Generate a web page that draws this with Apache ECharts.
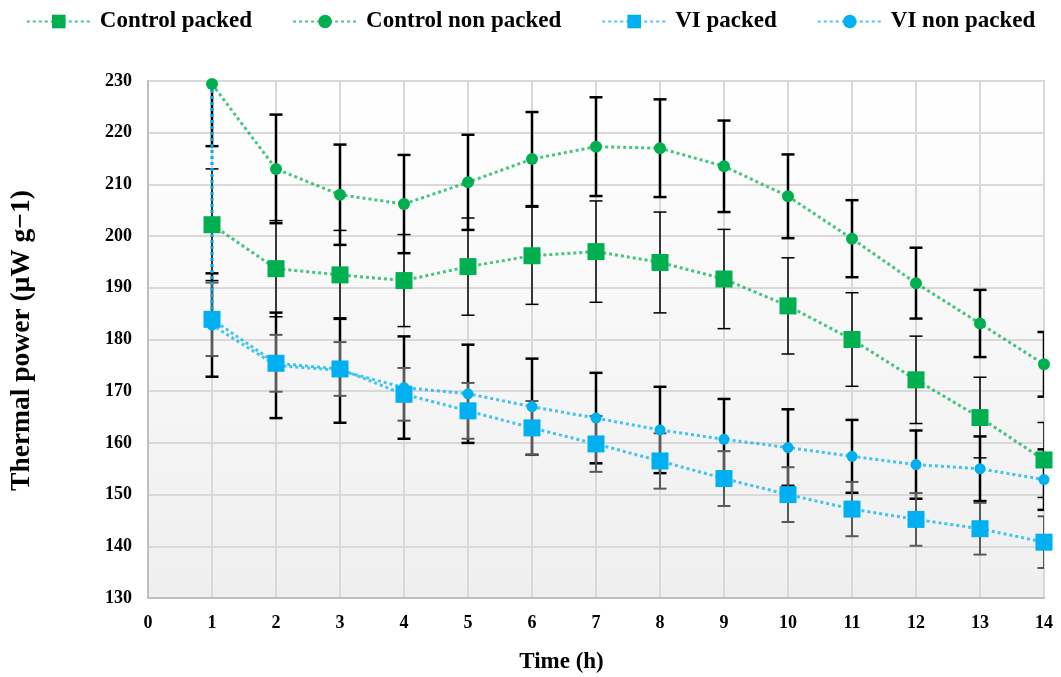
<!DOCTYPE html>
<html>
<head>
<meta charset="utf-8">
<script src="https://cdn.jsdelivr.net/npm/echarts@6/dist/echarts.min.js"></script>
<style>html,body{margin:0;padding:0;background:#fff}#c{width:1061px;height:677px}</style>
</head>
<body>
<div id="c"></div>
<script>
// ---- data ----
const times = [1, 2, 3, 4, 5, 6, 7, 8, 9, 10, 11, 12, 13, 14];
const initialValue = 229.4; // shared starting reading at t = 1 h
const controlPacked    = [202.2, 193.7, 192.5, 191.4, 194.1, 196.2, 197.0, 194.9, 191.7, 186.5, 180.0, 172.2, 164.9, 156.7];
const controlPackedErr = [10.8, 9.3, 8.6, 8.9, 9.4, 9.4, 9.8, 9.75, 9.6, 9.3, 9.05, 8.45, 7.8, 7.25];
const controlNon       = [229.4, 213.0, 208.0, 206.2, 210.4, 214.9, 217.3, 217.0, 213.5, 207.7, 199.5, 190.9, 183.1, 175.2];
const controlNonErr    = [12.0, 10.5, 9.7, 9.5, 9.2, 9.1, 9.55, 9.45, 8.85, 8.1, 7.45, 6.85, 6.5, 6.25];
const viPacked         = [183.9, 175.4, 174.3, 169.4, 166.2, 162.9, 159.8, 156.5, 153.1, 150.0, 147.2, 145.2, 143.4, 140.8];
const viPackedErr      = [7.1, 5.5, 5.2, 5.1, 5.4, 5.2, 5.4, 5.35, 5.3, 5.3, 5.25, 5.1, 5.0, 5.0];
const viNon            = [182.8, 175.0, 174.0, 170.7, 169.5, 167.0, 164.8, 162.5, 160.7, 159.1, 157.4, 155.8, 155.0, 152.9];
const viNonErr         = [10.0, 10.2, 10.1, 9.9, 9.5, 9.3, 8.75, 8.35, 7.8, 7.4, 7.05, 6.6, 6.25, 5.85];
const seriesNames = ['Control packed', 'Control non packed', 'VI packed', 'VI non packed'];
const xTitle = 'Time (h)';
const yTitle = 'Thermal power (μW g−1)';

// ---- styling ----
const FONT = "'Liberation Serif', 'Times New Roman', serif";
const GREEN = '#00b050', BLUE = '#00b0f0';
const GREEN_LINE = 'rgba(0,176,80,0.72)', BLUE_LINE = 'rgba(0,176,240,0.72)';

function pts(ys, withStart) {
  const d = times.map((t, i) => [t, ys[i]]);
  if (withStart) d.unshift({ value: [times[0], initialValue], symbol: 'none' });
  return d;
}
function lineSeries(name, ys, color, lineColor, symbol, size, withStart) {
  return {
    type: 'line', name, data: pts(ys, withStart), symbol, symbolSize: size,
    itemStyle: { color, opacity: 1 },
    lineStyle: { color: lineColor, width: 3, type: [3, 3] },
    z: 5, animation: false
  };
}
function errSeries(ys, es, color, width) {
  return {
    type: 'custom', silent: true, clip: true, z: 2, animation: false,
    data: times.map((t, i) => [t, ys[i], es[i]]),
    encode: { x: 0, y: 1 },
    renderItem: function (params, api) {
      const x = api.value(0), y = api.value(1), e = api.value(2);
      const a = api.coord([x, y + e]), b = api.coord([x, y - e]);
      const hw = 6.5;
      const st = { stroke: color, lineWidth: width };
      return { type: 'group', children: [
        { type: 'line', shape: { x1: a[0], y1: a[1], x2: b[0], y2: b[1] }, style: st },
        { type: 'line', shape: { x1: a[0] - hw, y1: a[1], x2: a[0] + hw, y2: a[1] }, style: st },
        { type: 'line', shape: { x1: b[0] - hw, y1: b[1], x2: b[0] + hw, y2: b[1] }, style: st }
      ]};
    }
  };
}

const chart = echarts.init(document.getElementById('c'), null, { renderer: 'canvas' });
chart.setOption({
  backgroundColor: '#fff',
  animation: false,
  textStyle: { fontFamily: FONT },
  legend: {
    data: seriesNames, top: 5, left: 'center',
    itemWidth: 64, itemHeight: 17, itemGap: 40,
    textStyle: { fontFamily: FONT, fontWeight: 'bold', fontSize: 23, color: '#000', padding: [0, 0, 0, 4] }
  },
  grid: {
    left: 148, right: 17, top: 81, bottom: 79, show: true,
    borderColor: '#c8c8c8', borderWidth: 2,
    backgroundColor: { type: 'linear', x: 0, y: 0, x2: 0, y2: 1,
      colorStops: [{ offset: 0, color: '#ffffff' }, { offset: 1, color: '#efefef' }] }
  },
  xAxis: {
    type: 'value', min: 0, max: 14, interval: 1,
    axisLine: { show: true, lineStyle: { color: '#bfbfbf', width: 2 } },
    axisTick: { show: false },
    splitLine: { show: true, lineStyle: { color: '#d9d9d9', width: 2 } },
    axisLabel: { margin: 16, color: '#000', fontFamily: FONT, fontWeight: 'bold', fontSize: 18 }
  },
  yAxis: {
    type: 'value', min: 130, max: 230, interval: 10,
    axisLine: { show: true, lineStyle: { color: '#bfbfbf', width: 2 } },
    axisTick: { show: false },
    splitLine: { show: true, lineStyle: { color: '#d9d9d9', width: 2 } },
    axisLabel: { margin: 16, color: '#000', fontFamily: FONT, fontWeight: 'bold', fontSize: 18 }
  },
  graphic: [
    { type: 'text', x: 561.5, y: 662, style: { text: xTitle, fill: '#000', font: "bold 23px " + FONT, align: 'center', verticalAlign: 'middle' } },
    { type: 'text', x: 22, y: 340.5, rotation: Math.PI / 2, style: { text: yTitle, fill: '#000', font: "bold 27.5px " + FONT, align: 'center', verticalAlign: 'middle' } }
  ],
  series: [
    errSeries(controlNon, controlNonErr, '#000', 2.5),
    errSeries(controlPacked, controlPackedErr, '#000', 1.5),
    errSeries(viNon, viNonErr, '#000', 2.5),
    errSeries(viPacked, viPackedErr, '#595959', 2),
    lineSeries(seriesNames[0], controlPacked, GREEN, GREEN_LINE, 'rect', 17, false),
    lineSeries(seriesNames[1], controlNon, GREEN, GREEN_LINE, 'circle', 12, false),
    lineSeries(seriesNames[2], viPacked, BLUE, BLUE_LINE, 'rect', 17, true),
    lineSeries(seriesNames[3], viNon, BLUE, BLUE_LINE, 'circle', 11, true)
  ]
});
</script>
</body>
</html>
